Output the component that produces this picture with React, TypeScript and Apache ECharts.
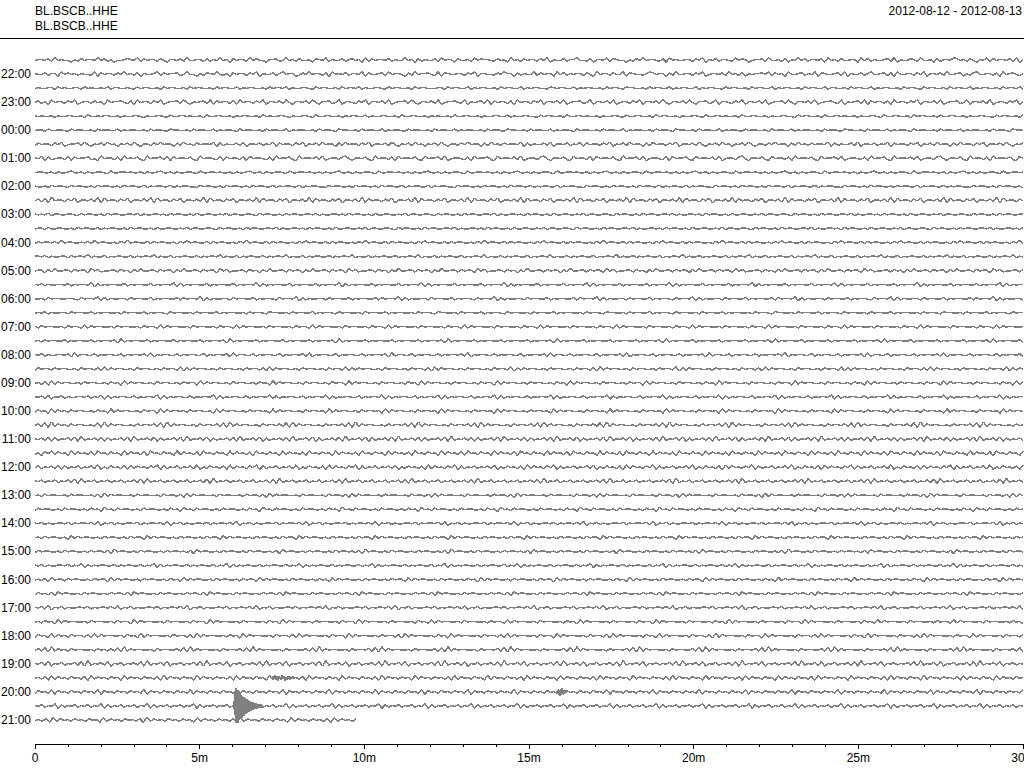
import React, { useEffect, useRef } from 'react';
import * as echarts from 'echarts';

const STATION = 'BL.BSCB..HHE';
const DATE_RANGE = '2012-08-12 - 2012-08-13';
const HOUR_LABELS = ['22:00', '23:00', '00:00', '01:00', '02:00', '03:00', '04:00', '05:00', '06:00', '07:00', '08:00', '09:00', '10:00', '11:00', '12:00', '13:00', '14:00', '15:00', '16:00', '17:00', '18:00', '19:00', '20:00', '21:00'];
const ROW_MINUTES = 30;
const LAST_ROW_END_MIN = 9.75;

// noise amplitude per row (px per digit step)
const ROW_GAIN = [0.9, 0.9, 0.85, 0.9, 0.85, 0.8, 0.85, 0.9, 0.85, 0.8, 0.9, 0.8, 0.85, 0.8, 0.8, 0.85, 0.8, 0.8, 0.75, 0.8, 0.75, 0.8, 0.8, 0.85, 0.8, 0.85, 0.9, 0.85, 0.9, 0.9, 0.85, 0.8, 0.85, 0.8, 0.8, 0.85, 0.8, 0.85, 0.8, 0.85, 0.85, 0.9, 0.85, 0.9, 0.9, 0.9, 0.9, 0.9];

// one digit per sample (0..9, centred on 4.5), rows 21:30 .. 21:00
const ROW_TRACES = [
  '455463745442536455474635244565473645536425546374455363547452' + '645537464425563474536445265473544635645273645546354474526354' + '463745526445374655436452745364553647254463557443625547365442' + '536474554362745445536472546355437465245563744536254746355462' + '745364455274635445637254465374452635547645364254736455463725',
  '544635527464535443726455364745362544573645563474425365474352' + '645536472544635745523647455362745463554726445637455426374556' + '437265445536472554436475526354473645527463545536427455364472' + '654435764552637445536472455463745362545564736452744563547265' + '445637254463574456362744553647255463744562536744553627456435',
  '454455364544553645445463554454364554453645544536455445364554' + '463545544536455463544554364554453645546354455436455445364554' + '445536455446354554453645544635455443654554463545544536455436' + '554453645544635455446354554436455445364554463545544536455446' + '355445364554463545544536455436455445364554463545544536455463',
  '463527455364724553645274556436274553647245563742545637264553' + '627455364725546374255463742556347255436472554637245563742554' + '637245564372545637264553627455364725546372455634725546372455' + '364725546374255463742556347255436472554637245563742554637245' + '564372545637264553627455364725546372455634725546372455364725',
  '545445354455445364454554453544554354455436445545445364455445' + '354554453645445543544554364455445354554463544554453644554453' + '545445364455445354455446354455443645544536445545445354455436' + '445544536455445354455436445545445364455445354455443645544536' + '445545445354455436445544536455445364455445354455443645544536',
  '455364455436455445364554463545544536455436554453645544635455' + '436455445364554463545544536455436554453645544635455436455445' + '364554463545544536455436554453645544635455436455445364554463' + '545544536455436554453645544635455436455445364554463545544536' + '455436554453645544635455436455445364554463545544536455436554',
  '364553647245563742546374525463742553647455263745364554726354' + '463725546354726455364725463745526374553647255463742546374525' + '463742553647455263745364554726354463725546354726455364725463' + '745526374553647255463742546374525463742553647455263745364554' + '726354463725546354726455364725463745526374553647255463742546',
  '547263455372645563427455362745463274556372645546327455437264' + '553627455436274556327455463724553674255463274553627455463274' + '556372455436274556327455463724553674255463274553627455463274' + '556372455436274556327455463724553674255463274553627455463274' + '556372455436274556327455463724553674255463274553627455463274',
  '455445354456445354455436445545445354456445354455436445545445' + '354456445354455436445545445354456445354455436445545445354456' + '445354455436445545445354456445354455436445545445354456445354' + '455436445545445354456445354455436445545445354456445354455436' + '445545445354456445354455436445545445354456445354455436445545',
  '544536455436455445364554453645544635455446354554436455445364' + '554453645544635455446354554436455445364554453645544635455446' + '354554436455445364554453645544635455446354554436455445364554' + '453645544635455446354554436455445364554453645544635455446354' + '554436455445364554453645544635455446354554436455445364554453',
  '463728455364725546382745536472554638274553647255463827455364' + '725546382745536472554638274553647255463827455364725546382745' + '536472554638274553647255463827455364725546382745536472554638' + '274553647255463827455364725546382745536472554638274553647255' + '463827455364725546382745536472554638274553647255463827455364',
  '545463554455436455445364554455463544554536455445364455445463' + '554455436455445364554455463544554536455445364455445463554455' + '436455445364554455463544554536455445364455445463554455436455' + '445364554455463544554536455445364455445463554455436455445364' + '554455463544554536455445364455445463554455436455445364554455',
  '455364455445364554463545544536455445364455445463554455436455' + '445364554455463544554536455445364455445463554455436455445364' + '554455463544554536455445364455445463554455436455445364554455' + '463544554536455445364455445463554455436455445364554455463544' + '554536455445364455445463554455436455445364554455463544554536',
  '364554637455445463745544536474554463645544536474554463645544' + '536474554463645544536474554463645544536474554463645544536474' + '554463645544536474554463645544536474554463645544536474554463' + '645544536474554463645544536474554463645544536474554463645544' + '536474554463645544536474554463645544536474554463645544536474',
  '554635445536455473544635455446354554735446354554463545547354' + '463545544635455473544635455446354554735446354554463545547354' + '463545544635455473544635455446354554735446354554463545547354' + '463545544635455473544635455446354554735446354554463545547354' + '463545544635455473544635455446354554735446354554463545547354',
  '455263744553645527463445536452637445536455263744553645527463' + '445536452637445536455263744553645527463445536452637445536455' + '263744553645527463445536452637445536455263744553645527463445' + '536452637445536455263744553645527463445536452637445536455263' + '744553645527463445536452637445536455263744553645527463445536',
  '546354455463545547263545544635455446354554726354554463545544' + '635455472635455446354554463545547263545544635455446354554726' + '354554463545544635455472635455446354554463545547263545544635' + '455446354554726354554463545544635455472635455446354554463545' + '547263545544635455446354554726354554463545544635455472635455',
  '445364554455436455472635445536455446354554463645547263544553' + '645544635455436455472635445536455446354554463645547263544553' + '645544635455436455472635445536455446354554463645547263544553' + '645544635455436455472635445536455446354554463645547263544553' + '645544635455436455472635445536455446354554463645547263544553',
  '454635445536455446354554453645544635455436455445364554463545' + '544536455436554453645544635455436455445364554463545544536455' + '436554453645544635455436455445364554463545544536455436554453' + '645544635455436455445364554463545544536455436554453645544635' + '455436455445364554463545544536455436554453645544635455436455',
  '536455445364552736455445364554453645527364554453645544536455' + '273645544536455445364552736455445364554453645527364554453645' + '544536455273645544536455445364552736455445364554453645527364' + '554453645544536455273645544536455445364552736455445364554453' + '645527364554453645544536455273645544536455445364552736455445',
  '453645544635455446354554627354554463545544635455446354554627' + '354554463545544635455446354554627354554463545544635455446354' + '554627354554463545544635455446354554627354554463545544635455' + '446354554627354554463545544635455446354554627354554463545544' + '635455446354554627354554463545544635455446354554627354554463',
  '546354455462735544635455446354554637254554463545544635455462' + '735544635455446354554637254554463545544635455462735544635455' + '446354554637254554463545544635455462735544635455446354554637' + '254554463545544635455462735544635455446354554637254554463545' + '544635455462735544635455446354554637254554463545544635455462',
  '364553645544536455362736455445364554453645537263645544536455' + '445364553627364554453645544536455372636455445364554453645536' + '273645544536455445364553726364554453645544536455362736455445' + '364554453645537263645544536455445364553627364554453645544536' + '455372636455445364554453645536273645544536455445364553726364',
  '453627364554453645544536452736455445364554453645527364554453' + '645544536452736455445364554453645527364554453645544536452736' + '455445364554453645527364554453645544536452736455445364554453' + '645527364554453645544536452736455445364554453645527364554453' + '645544536452736455445364554453645527364554453645544536452736',
  '546372546354455463547263545544635455472635455446354554726354' + '554463545547263545544635455472635455446354554726354554463545' + '547263545544635455472635455446354554726354554463545547263545' + '544635455472635455446354554726354554463545547263545544635455' + '472635455446354554726354554463545547263545544635455472635455',
  '364527364536455445364527364554453645527364554536455445273645' + '544536455452736455445364554527364554453645545273645544536455' + '452736455445364554527364554453645545273645544536455452736455' + '445364554527364554453645545273645544536455452736455445364554' + '527364554453645545273645544536455452736455445364554527364554',
  '463728364536455445372836455445364554637283645544536455463728' + '364554453645546372836455445364554637283645544536455463728364' + '554453645546372836455445364554637283645544536455463728364554' + '453645546372836455445364554637283645544536455463728364554453' + '645546372836455445364554637283645544536455463728364554453645',
  '546372635463728354637263546372835463726354637283546372635463' + '728354637263546372835463726354637283546372635463728354637263' + '546372835463726354637283546372635463728354637263546372835463' + '726354637283546372635463728354637263546372835463726354637283' + '546372635463728354637263546372835463726354637283546372635463',
  '352647364527364536274536452736453627453645273645362745364527' + '364536274536452736453627453645273645362745364527364536274536' + '452736453627453645273645362745364527364536274536452736453627' + '453645273645362745364527364536274536452736453627453645273645' + '362745364527364536274536452736453627453645273645362745364527',
  '463546372635463546372536453627364536472635463546372536453627' + '364536472635463546372536453627364536472635463546372536453627' + '364536472635463546372536453627364536472635463546372536453627' + '364536472635463546372536453627364536472635463546372536453627' + '364536472635463546372536453627364536472635463546372536453627',
  '546354635463728354635463546354637283546354635463546372835463' + '546354635463728354635463546354637283546354635463546372835463' + '546354635463728354635463546354637283546354635463546372835463' + '546354635463728354635463546354637283546354635463546372835463' + '546354635463728354635463546354637283546354635463546372835463',
  '453645544536455445362736455445364554453645536273645544536455' + '445364553627364554453645544536455362736455445364554453645536' + '273645544536455445364553627364554453645544536455362736455445' + '364554453645536273645544536455445364553627364554453645544536' + '455362736455445364554453645536273645544536455445364553627364',
  '364554453645544536452745364554453645544536452745364554453645' + '544536452745364554453645544536452745364554453645544536452745' + '364554453645544536452745364554453645544536452745364554453645' + '544536452745364554453645544536452745364554453645544536452745' + '364554453645544536452745364554453645544536452745364554453645',
  '546354455463545546372546354455463545546372546354455463545546' + '372546354455463545546372546354455463545546372546354455463545' + '546372546354455463545546372546354455463545546372546354455463' + '545546372546354455463545546372546354455463545546372546354455' + '463545546372546354455463545546372546354455463545546372546354',
  '453645544527364554453645544536455273645544536455445364552736' + '455445364554453645527364554453645544536455273645544536455445' + '364552736455445364554453645527364554453645544536455273645544' + '536455445364552736455445364554453645527364554453645544536455' + '273645544536455445364552736455445364554453645527364554453645',
  '364554453645544536455362745544536455445364554536274554453645' + '544536455445362745544536455445364554536274554453645544536455' + '445362745544536455445364554536274554453645544536455445362745' + '544536455445364554536274554453645544536455445362745544536455' + '445364554536274554453645544536455445362745544536455445364554',
  '546354455463547263545544635455446354726354554463545544635472' + '635455446354554463547263545544635455446354726354554463545544' + '635472635455446354554463547263545544635455446354726354554463' + '545544635472635455446354554463547263545544635455446354726354' + '554463545544635472635455446354554463547263545544635455446354',
  '453627455364554453645527364554453645544536452736455445364554' + '453645527364554453645544536452736455445364554453645527364554' + '453645544536452736455445364554453645527364554453645544536452' + '736455445364554453645527364554453645544536452736455445364554' + '453645527364554453645544536452736455445364554453645527364554',
  '364536274554453645544536455362745544536455445364553627455445' + '364554453645536274554453645544536455362745544536455445364553' + '627455445364554453645536274554453645544536455362745544536455' + '445364553627455445364554453645536274554453645544536455362745' + '544536455445364553627455445364554453645536274554453645544536',
  '546372546354455463545546372546354455463545546372546354455463' + '545546372546354455463545546372546354455463545546372546354455' + '463545546372546354455463545546372546354455463545546372546354' + '455463545546372546354455463545546372546354455463545546372546' + '354455463545546372546354455463545546372546354455463545546372',
  '453645273645544536455445364552736455445364554453645527364554' + '453645544536452736455445364554453645527364554453645544536452' + '736455445364554453645527364554453645544536452736455445364554' + '453645527364554453645544536452736455445364554453645527364554' + '453645544536452736455445364554453645527364554453645544536452',
  '364527364536455362736455445364527364554453645536273645544536' + '452736455445364553627364554453645527364554453645536273645544' + '536452736455445364553627364554453645527364554453645536273645' + '544536452736455445364553627364554453645527364554453645536273' + '645544536452736455445364553627364554453645527364554453645536',
  '463728364536455445364536372836455445364554463728364554453645' + '546372836455445364554463728364554453645546372836455445364554' + '463728364554453645546372836455445364554463728364554453645546' + '372836455445364554463728364554453645546372836455445364554463' + '728364554453645546372836455445364554463728364554453645546372',
  '546372546354637283546372546354637283546372546354637283546372' + '546354637283546372546354637283546372546354637283546372546354' + '637283546372546354637283546372546354637283546372546354637283' + '546372546354637283546372546354637283546372546354637283546372' + '546354637283546372546354637283546372546354637283546372546354',
  '453627364536453627364536452736453645362736453645273645364536' + '273645364527364536453627364536452736453645362736453645273645' + '364536273645364527364536453627364536452736453645362736453645' + '273645364536273645364527364536453627364536452736453645362736' + '453645273645364536273645364527364536453627364536452736453645',
  '364537264536453645372645364536453726453645364537264536453645' + '372645364536453726453645364537264536453645372645364536453726' + '453645364537264536453645372645364536453726453645364537264536' + '453645372645364536453726453645364537264536453645372645364536' + '453726453645364537264536453645372645364536453726453645364537',
  '546354726354635463547263546354635472635463546354726354635463' + '547263546354635472635463546354726354635463547263546354635472' + '635463546354726354635463547263546354635472635463546354726354' + '635463547263546354635472635463546354726354635463547263546354' + '635472635463546354726354635463547263546354635472635463546354',
  '453627364536453645273645364536273645364536452736453645362736' + '453645364527364536453627364536'
];

// seismic events: row, onset (minutes), sample step (minutes), amplitude (px)
const EVENT_ROWS = [46, 45, 44];
const EVENT_START_MIN = [6.02, 15.85, 7.2];
const EVENT_STEP_MIN = [0.0152, 0.0152, 0.03];
const EVENT_PX: number[][] = [
  [0, -3, 5, -9, 14, -17, 18, -16, 15, -17, 16, -14, 15, -13, 12, -13, 11, -12, 10, -10, 9, -10, 9, -8, 8, -8, 7, -7, 7, -6, 6, -6, 5, -5, 5, -5, 4, -4, 4, -4, 4, -3, 3, -3, 3, -3, 3, -3, 2, -2, 2, -2, 2, -2, 2, -2, 2, -2, 1, -1],
  [0, 2, -1, 3, -3, 1, -4, 3, 0, -3, 4, -2, 2, -3, 1, -2, 2, 0, -1, 1, 0],
  [0, 2, -1, 3, -2, 1, -3, 2, 0, -2, 3, -1, 2, -3, 1, -2, 2, 0, -2, 1, -1, 2, -1, 0]
];

const TRACE_COLOR = '#808080';
const FONT = '"Liberation Sans", Arial, Helvetica, sans-serif';
const ROW_PX = 660 / 47;
const Y_MIN = -1.70909;
const Y_MAX = 48.42424;

export default function App() {
  const ref = useRef<HTMLDivElement>(null);
  useEffect(() => {
    document.body.style.margin = '0';
    const chart = echarts.init(ref.current!, undefined, { renderer: 'svg' });
    const nRows = ROW_TRACES.length;
    const series: any[] = [];
    ROW_TRACES.forEach((s, k) => {
      const end = k === nRows - 1 ? LAST_ROW_END_MIN : ROW_MINUTES;
      const step = end / (s.length - 1);
      const base = nRows - 1 - k;
      const data: number[][] = [];
      for (let i = 0; i < s.length; i++) {
        data.push([i * step, base + ((Number(s[i]) - 4.5) * ROW_GAIN[k]) / ROW_PX]);
      }
      series.push({
        type: 'line', data, symbol: 'none', showSymbol: false, silent: true,
        lineStyle: { color: TRACE_COLOR, width: 1.5 }, z: 2
      });
    });
    EVENT_ROWS.forEach((row, e) => {
      const base = nRows - 1 - row;
      const data = EVENT_PX[e].map((v, i) => [EVENT_START_MIN[e] + i * EVENT_STEP_MIN[e], base + v / ROW_PX]);
      series.push({
        type: 'line', data, symbol: 'none', showSymbol: false, silent: true,
        lineStyle: { color: TRACE_COLOR, width: 1.5 }, z: 3
      });
    });
    const labelValues = HOUR_LABELS.map((_, j) => nRows - 2 - 2 * j);
    chart.setOption({
      animation: false,
      backgroundColor: '#ffffff',
      title: [
        { text: STATION, left: 35, top: 5, padding: 0, textStyle: { fontSize: 12, fontWeight: 'normal', color: '#000', fontFamily: FONT } },
        { text: STATION, left: 35, top: 20, padding: 0, textStyle: { fontSize: 12, fontWeight: 'normal', color: '#000', fontFamily: FONT } },
        { text: DATE_RANGE, right: 2, top: 5, padding: 0, textStyle: { fontSize: 12, fontWeight: 'normal', color: '#000', fontFamily: FONT } }
      ],
      graphic: [
        { type: 'line', shape: { x1: 0, y1: 38.5, x2: 1024, y2: 38.5 }, style: { stroke: '#000', lineWidth: 1 } }
      ],
      grid: { left: 35, right: 1, top: 40, bottom: 24, containLabel: false, outerBoundsMode: 'none' },
      xAxis: {
        type: 'value', min: 0, max: ROW_MINUTES, interval: 5,
        axisLine: { show: true, onZero: false, lineStyle: { color: '#000', width: 1 } },
        axisTick: { show: true, length: 5, lineStyle: { color: '#000' } },
        minorTick: { show: true, splitNumber: 5, length: 3, lineStyle: { color: '#000' } },
        splitLine: { show: false },
        minorSplitLine: { show: false },
        axisLabel: {
          margin: 8, color: '#000', fontSize: 12, fontFamily: FONT, hideOverlap: false,
          formatter: (v: number) => (v === 0 ? '0' : v + 'm')
        }
      },
      yAxis: {
        type: 'value', min: Y_MIN, max: Y_MAX,
        axisLine: { show: false },
        axisTick: { show: false },
        splitLine: { show: false },
        axisLabel: {
          show: true, margin: 4, color: '#000', fontSize: 12, fontFamily: FONT,
          customValues: labelValues,
          formatter: (v: number) => {
            const j = Math.round((nRows - 2 - v) / 2);
            return HOUR_LABELS[j] ?? '';
          }
        }
      },
      series
    });
    return () => chart.dispose();
  }, []);
  return (
    <>
      <style>{'#trace-chart svg path{shape-rendering:crispEdges}'}</style>
      <div id="trace-chart" ref={ref} style={{ position: 'fixed', left: 0, top: 0, width: 1024, height: 768 }} />
    </>
  );
}
